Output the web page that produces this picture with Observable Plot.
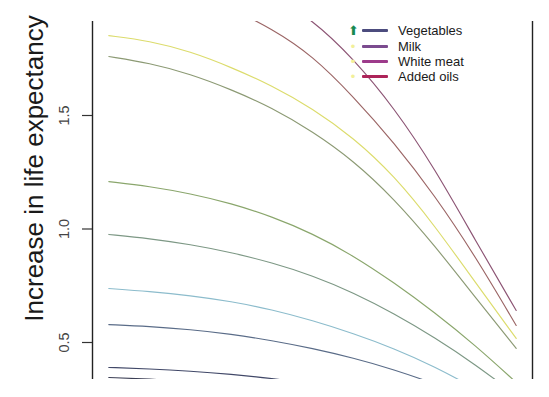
<!DOCTYPE html>
<html>
<head>
<meta charset="utf-8">
<script src="https://cdn.jsdelivr.net/npm/d3@7"></script>
<script src="https://cdn.jsdelivr.net/npm/@observablehq/plot@0.6"></script>
<style>
  html, body { margin: 0; padding: 0; background: #fff; }
  #wrap { position: relative; width: 549px; height: 397px; overflow: hidden; font-family: "Liberation Sans", Arial, sans-serif; }
  #legend { position: absolute; left: 344px; top: 23px; font-size: 13px; color: #1a1a1a; }
  .row { height: 15.4px; display: flex; align-items: center; white-space: nowrap; }
  .sym { width: 18px; text-align: center; font-size: 13px; line-height: 1; }
  .sw { width: 26px; height: 3px; margin-right: 10px; border-radius: 1px; }
</style>
</head>
<body>
<div id="wrap"></div>
<script>
// x positions of the sampled points (relative exposure, 0..1)
const xs = [0, 0.1, 0.2, 0.3, 0.4, 0.5, 0.6, 0.7, 0.8, 0.9, 1.0];

// series values (increase in life expectancy), null = not sampled
const curveYellow  = [1.852, 1.829, 1.782, 1.713, 1.632, 1.531, 1.403, 1.236, 1.015, 0.764, 0.518];
const curveOlive   = [1.760, 1.731, 1.683, 1.615, 1.535, 1.430, 1.302, 1.134, 0.927, 0.698, 0.474];
const curveRed1    = [null, null, null, 1.971, 1.883, 1.764, 1.584, 1.381, 1.148, 0.879, 0.575];
const curveRed2    = [null, null, null, null, 2.029, 1.923, 1.751, 1.535, 1.267, 0.949, 0.641];
const curveGreen   = [1.209, 1.188, 1.156, 1.113, 1.055, 0.980, 0.883, 0.764, 0.632, 0.487, 0.324];
const curveSage    = [0.976, 0.958, 0.932, 0.897, 0.852, 0.795, 0.720, 0.628, 0.522, 0.403, 0.267];
const curveSky     = [0.738, 0.725, 0.707, 0.681, 0.645, 0.597, 0.540, 0.474, 0.394, 0.297, 0.192];
const curveSteel   = [0.579, 0.571, 0.557, 0.537, 0.509, 0.474, 0.432, 0.381, 0.319, 0.245, 0.156];
const curveNavy    = [0.390, 0.384, 0.374, 0.360, 0.342, 0.318, 0.290, null, null, null, null];
const curveDark    = [0.346, 0.339, 0.328, 0.312, null, null, null, null, null, null, null];

const seriesNames  = ["red1", "red2", "yellow", "olive", "green", "sage", "sky", "steel", "navy", "dark"];
const seriesValues = [curveRed1, curveRed2, curveYellow, curveOlive, curveGreen, curveSage, curveSky, curveSteel, curveNavy, curveDark];
const seriesColors = ["#9b6565", "#8c5474", "#dcdc6c", "#8c9a74", "#8aa66c", "#7d9885", "#8cbccc", "#5a6c88", "#414868", "#3c3f55"];

const yTicks = [0.5, 1.0, 1.5];
const yLabel = "Increase in life expectancy";

const legendLabels = ["Vegetables", "Milk", "White meat", "Added oils"];
const legendColors = ["#4c4c7e", "#7b4b8f", "#9d3b8b", "#ad2459"];
const legendSymbols = ["⬆", "•", "•", "•"];
const legendSymbolColors = ["#178a52", "#f2f09a", "#f2f09a", "#f2f09a"];

const rows = [];
seriesValues.forEach((vals, k) => {
  vals.forEach((v, i) => { if (v != null) rows.push({ x: xs[i], y: v, s: seriesNames[k] }); });
});

const chart = Plot.plot({
  width: 549,
  height: 397,
  marginTop: 21,
  marginBottom: 18,
  marginLeft: 92,
  marginRight: 17,
  style: { fontFamily: "'Liberation Sans', Arial, sans-serif", background: "#fff" },
  x: { domain: [-0.04, 1.04], axis: null },
  y: { domain: [0.337, 1.9141], axis: null },
  color: { domain: seriesNames, range: seriesColors },
  marks: [
    Plot.line(rows, { x: "x", y: "y", z: "s", stroke: "s", strokeWidth: 1.15, curve: "basis", clip: true }),
    Plot.ruleX([-0.04, 1.04], { stroke: "#222", strokeWidth: 1.4 }),
    Plot.axisY(yTicks, { tickSize: 10, tickFormat: () => "", label: null, stroke: "#333", strokeWidth: 1.2 }),
    Plot.text(yTicks, { y: d => d, text: d => d.toFixed(1), frameAnchor: "left", textAnchor: "middle", dx: -28, rotate: -90, fontSize: 14.5, fill: "#444" }),
    Plot.text([yLabel], { text: d => d, frameAnchor: "left", textAnchor: "middle", dx: -58, dy: -32, rotate: -90, fontSize: 26, fill: "#1a1a1a" })
  ]
});

const wrap = document.getElementById("wrap");
wrap.appendChild(chart);

const legend = document.createElement("div");
legend.id = "legend";
legendLabels.forEach((lab, i) => {
  const r = document.createElement("div");
  r.className = "row";
  const sym = document.createElement("span");
  sym.className = "sym";
  sym.textContent = legendSymbols[i];
  sym.style.color = legendSymbolColors[i];
  const sw = document.createElement("span");
  sw.className = "sw";
  sw.style.background = legendColors[i];
  const t = document.createElement("span");
  t.textContent = lab;
  r.appendChild(sym); r.appendChild(sw); r.appendChild(t);
  legend.appendChild(r);
});
wrap.appendChild(legend);
</script>
</body>
</html>
